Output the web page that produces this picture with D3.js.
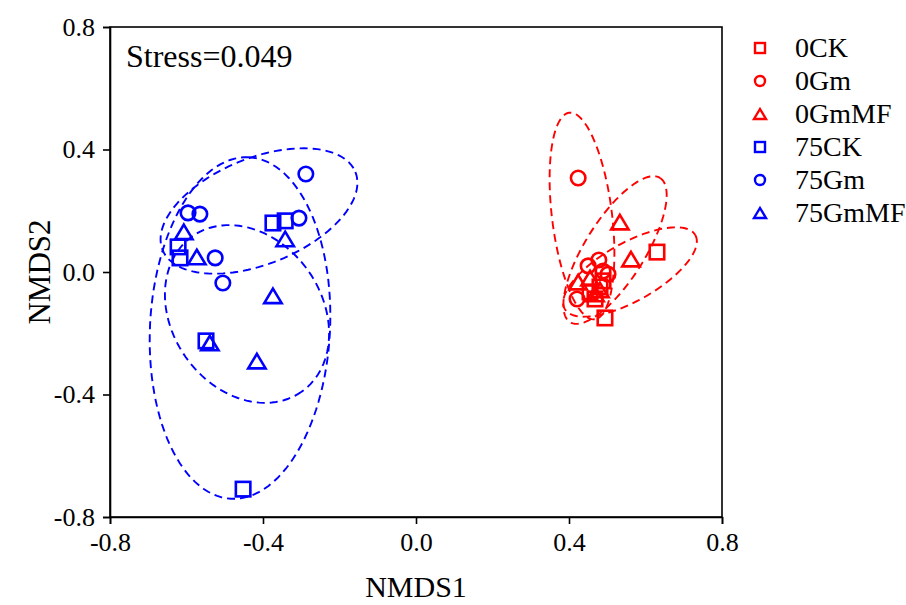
<!DOCTYPE html>
<html>
<head>
<meta charset="utf-8">
<script src="https://cdn.jsdelivr.net/npm/d3@7"></script>
<style>
  html, body { margin: 0; padding: 0; background: #fff; }
  svg { display: block; }
  text { font-family: "Liberation Serif", "Times New Roman", serif; }
</style>
</head>
<body>
<svg id="chart" width="906" height="605"></svg>
<script>
// ---------------- data ----------------
const groups = ["0CK", "0Gm", "0GmMF", "75CK", "75Gm", "75GmMF"];
const groupShape = ["square", "circle", "triangle", "square", "circle", "triangle"];
const groupColor = ["#FF0000", "#FF0000", "#FF0000", "#0000FF", "#0000FF", "#0000FF"];

const pts0CK = [[0.630, 0.065], [0.494, -0.150], [0.481, -0.049], [0.468, -0.088], [0.489, -0.029], [0.455, -0.065]];
const pts0Gm = [[0.424, 0.307], [0.478, 0.039], [0.450, 0.020], [0.502, -0.007], [0.421, -0.088], [0.489, 0.003]];
const pts0GmMF = [[0.533, 0.163], [0.562, 0.042], [0.455, -0.020], [0.424, -0.033], [0.468, -0.072], [0.481, -0.059]];
const pts75CK = [[-0.374, 0.160], [-0.342, 0.167], [-0.622, 0.082], [-0.617, 0.046], [-0.549, -0.225], [-0.452, -0.709]];
const pts75Gm = [[-0.288, 0.320], [-0.596, 0.193], [-0.565, 0.189], [-0.306, 0.176], [-0.525, 0.046], [-0.505, -0.036]];
const pts75GmMF = [[-0.342, 0.108], [-0.607, 0.131], [-0.573, 0.049], [-0.374, -0.078], [-0.539, -0.232], [-0.416, -0.291]];
const groupPoints = [pts0CK, pts0Gm, pts0GmMF, pts75CK, pts75Gm, pts75GmMF];

// ellipses: centre and two conjugate semi-diameters (data units)
const ellCenter = [[0.5595, 0.0], [0.4340, 0.1829], [0.5203, 0.0718], [-0.4601, -0.1829], [-0.4105, 0.1992], [-0.4418, -0.1371]];
const ellU = [[0.1707, 0.1205], [0.0332, -0.3373], [0.1176, 0.2354], [0.0233, 0.5577], [0.2520, 0.1273], [0.1425, -0.2540]];
const ellV = [[0.0374, -0.0823], [-0.0779, -0.0121], [0.0664, -0.0519], [0.2350, -0.0154], [0.0520, -0.1604], [-0.1605, -0.1404]];

const xTicks = [-0.8, -0.4, 0.0, 0.4, 0.8];
const yTicks = [-0.8, -0.4, 0.0, 0.4, 0.8];
const stressLabel = "Stress=0.049";
const xTitle = "NMDS1";
const yTitle = "NMDS2";

// ---------------- layout ----------------
const svg = d3.select("#chart");
const L = 110, R = 722, T = 27, B = 517;
const x = d3.scaleLinear().domain([-0.8, 0.8]).range([L, R]);
const y = d3.scaleLinear().domain([-0.8, 0.8]).range([B, T]);
const fmt = d => d.toFixed(1);

// frame
svg.append("rect").attr("x", L).attr("y", T).attr("width", R - L).attr("height", B - T)
  .attr("fill", "none").attr("stroke", "#000").attr("stroke-width", 1.6);

// axes
const xAxis = svg.append("g").attr("transform", `translate(0,${B})`)
  .call(d3.axisBottom(x).tickValues(xTicks).tickFormat(fmt).tickSize(7).tickPadding(9));
const yAxis = svg.append("g").attr("transform", `translate(${L},0)`)
  .call(d3.axisLeft(y).tickValues(yTicks).tickFormat(fmt).tickSize(7).tickPadding(8));
[xAxis, yAxis].forEach(g => {
  g.select(".domain").attr("stroke", "#000").attr("stroke-width", 1.6);
  g.selectAll(".tick line").attr("stroke", "#000").attr("stroke-width", 1.6);
  g.selectAll(".tick text").attr("fill", "#000").style("font-size", "26px")
    .style("font-family", '"Liberation Serif", serif');
});

// titles
svg.append("text").attr("x", (L + R) / 2).attr("y", 597).attr("text-anchor", "middle")
  .style("font-size", "30px").text(xTitle);
svg.append("text").attr("transform", `translate(50,${(T + B) / 2}) rotate(-90)`)
  .attr("text-anchor", "middle").style("font-size", "31px").text(yTitle);
svg.append("text").attr("x", 126).attr("y", 67).style("font-size", "32px").text(stressLabel);

// ellipses
const line = d3.line().x(d => x(d[0])).y(d => y(d[1]));
ellCenter.forEach((c, i) => {
  const u = ellU[i], v = ellV[i];
  const pts = d3.range(0, 361, 3).map(deg => {
    const t = deg * Math.PI / 180;
    return [c[0] + u[0] * Math.cos(t) + v[0] * Math.sin(t), c[1] + u[1] * Math.cos(t) + v[1] * Math.sin(t)];
  });
  svg.append("path").attr("d", line(pts)).attr("fill", "none")
    .attr("stroke", groupColor[i]).attr("stroke-width", 1.9).attr("stroke-dasharray", "8,5");
});

// markers
function drawMarker(g, shape, cx, cy, s, color, sw) {
  if (shape === "square") {
    g.append("rect").attr("x", cx - s / 2).attr("y", cy - s / 2).attr("width", s).attr("height", s)
      .attr("fill", "none").attr("stroke", color).attr("stroke-width", sw);
  } else if (shape === "circle") {
    g.append("circle").attr("cx", cx).attr("cy", cy).attr("r", s / 2)
      .attr("fill", "none").attr("stroke", color).attr("stroke-width", sw);
  } else {
    const w = s * 1.2, h = s;
    g.append("path").attr("d", `M${cx},${cy - h / 2}L${cx + w / 2},${cy + h / 2}L${cx - w / 2},${cy + h / 2}Z`)
      .attr("fill", "none").attr("stroke", color).attr("stroke-width", sw).attr("stroke-linejoin", "miter");
  }
}
const gp = svg.append("g");
groupPoints.forEach((pts, i) => {
  pts.forEach(p => drawMarker(gp, groupShape[i], x(p[0]), y(p[1]), 14.5, groupColor[i], 2.6));
});

// legend
const lg = svg.append("g");
groups.forEach((name, i) => {
  const yy = 48 + i * 33;
  drawMarker(lg, groupShape[i], 760, yy, 10, groupColor[i], 2.4);
  lg.append("text").attr("x", 795).attr("y", yy + 9).style("font-size", "28px").text(name);
});
</script>
</body>
</html>
